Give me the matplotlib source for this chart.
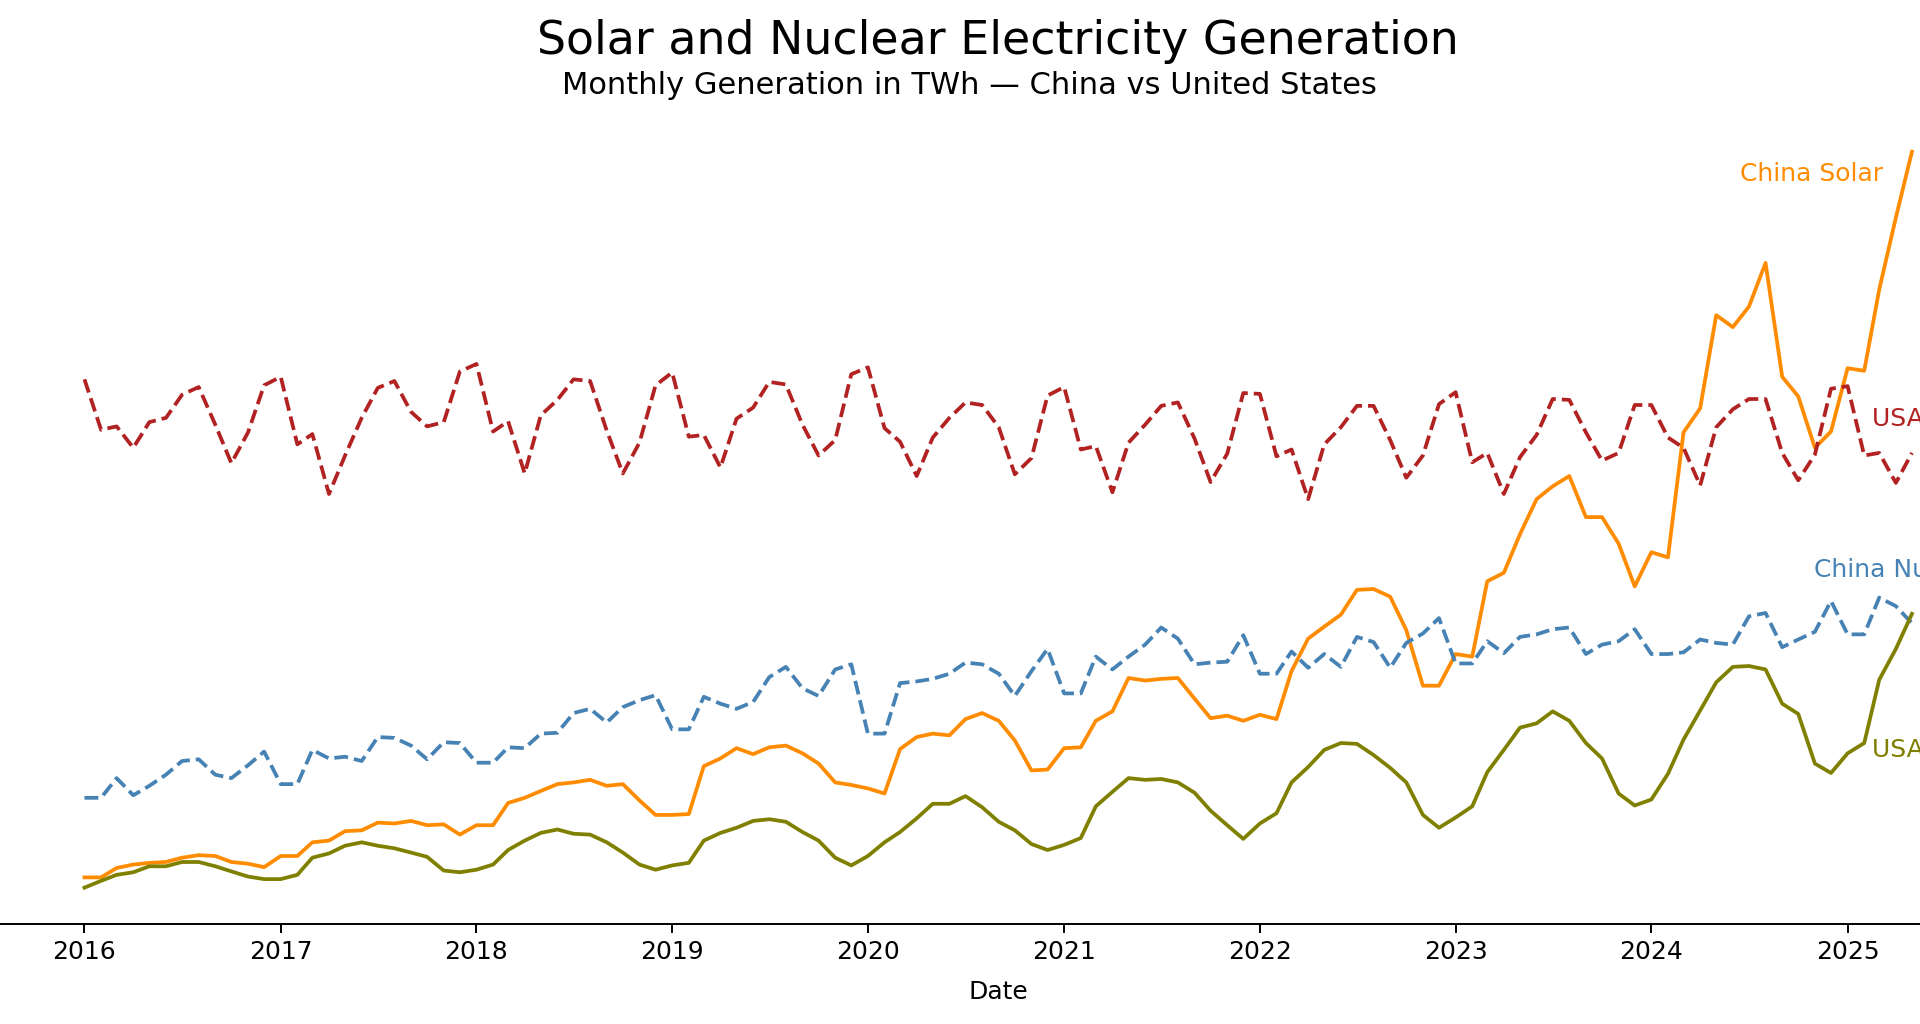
import matplotlib
matplotlib.use('Agg')
import matplotlib.pyplot as plt
import matplotlib.dates as mdates
import pandas as pd

# Monthly data, Jan 2016 - May 2025 (TWh)
fechas = pd.date_range('2016-01-01', periods=113, freq='MS')

china_solar = [
    7.3, 7.3, 8.4, 8.8, 9.0, 9.1, 9.6, 9.9, 9.8, 9.1, 8.9, 8.5,
    9.8, 9.8, 11.4, 11.6, 12.7, 12.8, 13.7, 13.6, 13.9, 13.4, 13.5, 12.3,
    13.4, 13.4, 16.0, 16.6, 17.4, 18.2, 18.4, 18.7, 18.0, 18.2, 16.3, 14.6,
    14.6, 14.7, 20.3, 21.2, 22.4, 21.7, 22.5, 22.7, 21.8, 20.6, 18.4, 18.1,
    17.7, 17.1, 22.3, 23.7, 24.1, 23.9, 25.8, 26.5, 25.6, 23.3, 19.8, 19.9,
    22.4, 22.5, 25.6, 26.7, 30.6, 30.3, 30.5, 30.6, 28.2, 25.9, 26.2, 25.6,
    26.3, 25.8, 31.4, 35.2, 36.6, 38.0, 40.9, 41.0, 40.1, 36.2, 29.7, 29.7,
    33.4, 33.1, 41.9, 42.9, 47.4, 51.5, 53.0, 54.2, 49.4, 49.4, 46.3, 41.3,
    45.3, 44.7, 59.3, 62.1, 73.0, 71.6, 74.0, 79.1, 65.8, 63.5, 57.5, 59.4,
    66.8, 66.5, 76.0, 84.4, 92.1,
]

usa_nuclear = [
    65.5, 59.6, 60.0, 57.5, 60.5, 61.0, 63.7, 64.6, 60.2, 55.7, 59.3, 64.8,
    65.8, 57.9, 59.1, 52.1, 56.6, 61.0, 64.5, 65.3, 61.7, 60.0, 60.5, 66.4,
    67.3, 59.4, 60.6, 54.5, 61.3, 63.1, 65.5, 65.3, 59.5, 54.5, 58.1, 64.8,
    66.3, 58.8, 59.0, 55.2, 60.9, 62.2, 65.2, 64.9, 60.2, 56.6, 58.4, 66.1,
    66.9, 59.8, 58.2, 54.2, 58.7, 61.0, 62.8, 62.5, 59.9, 54.4, 56.3, 63.6,
    64.6, 57.3, 57.7, 52.3, 58.1, 60.2, 62.4, 62.8, 58.6, 53.5, 56.8, 63.9,
    63.8, 56.5, 57.3, 51.5, 57.9, 59.9, 62.4, 62.4, 58.4, 54.0, 56.6, 62.6,
    64.0, 55.8, 56.9, 52.1, 56.4, 59.0, 63.2, 63.1, 59.3, 56.0, 56.9, 62.5,
    62.5, 58.7, 57.5, 53.1, 59.9, 62.0, 63.2, 63.2, 56.9, 53.7, 56.7, 64.4,
    64.7, 56.6, 56.9, 53.4, 56.9,
]

china_nuclear = [
    16.6, 16.6, 18.9, 16.9, 18.0, 19.3, 20.9, 21.1, 19.3, 18.9, 20.4, 22.0,
    18.2, 18.2, 22.2, 21.2, 21.4, 20.9, 23.7, 23.6, 22.7, 21.1, 23.1, 23.0,
    20.7, 20.7, 22.5, 22.4, 24.1, 24.2, 26.5, 27.0, 25.4, 27.2, 28.0, 28.6,
    24.6, 24.6, 28.4, 27.6, 27.0, 27.8, 30.7, 31.9, 29.4, 28.5, 31.6, 32.2,
    24.1, 24.1, 30.0, 30.2, 30.5, 31.1, 32.4, 32.2, 31.1, 28.5, 31.4, 34.0,
    28.8, 28.8, 33.1, 31.6, 33.1, 34.5, 36.5, 35.2, 32.2, 32.4, 32.5, 35.6,
    31.1, 31.1, 33.7, 31.8, 33.4, 31.9, 35.4, 34.8, 31.8, 34.7, 35.8, 37.6,
    32.3, 32.3, 34.9, 33.5, 35.4, 35.7, 36.3, 36.5, 33.4, 34.5, 34.9, 36.3,
    33.4, 33.4, 33.6, 35.1, 34.7, 34.5, 37.8, 38.2, 34.2, 35.1, 36.0, 39.6,
    35.7, 35.7, 40.0, 39.0, 37.0,
]

usa_solar = [
    6.1, 6.9, 7.6, 7.9, 8.6, 8.6, 9.1, 9.1, 8.6, 8.0, 7.4, 7.1,
    7.1, 7.6, 9.6, 10.1, 11.0, 11.4, 11.0, 10.7, 10.2, 9.7, 8.1, 7.9,
    8.2, 8.8, 10.5, 11.6, 12.5, 12.9, 12.4, 12.3, 11.4, 10.2, 8.8, 8.2,
    8.7, 9.0, 11.6, 12.5, 13.1, 13.9, 14.1, 13.8, 12.6, 11.6, 9.6, 8.7,
    9.8, 11.4, 12.6, 14.2, 15.9, 15.9, 16.8, 15.5, 13.8, 12.8, 11.2, 10.5,
    11.1, 11.9, 15.6, 17.3, 18.9, 18.7, 18.8, 18.4, 17.2, 15.1, 13.4, 11.8,
    13.6, 14.8, 18.4, 20.2, 22.2, 23.0, 22.9, 21.6, 20.1, 18.4, 14.6, 13.1,
    14.3, 15.6, 19.6, 22.2, 24.8, 25.3, 26.7, 25.6, 23.0, 21.2, 17.1, 15.7,
    16.4, 19.4, 23.4, 26.8, 30.1, 31.9, 32.0, 31.6, 27.6, 26.4, 20.6, 19.5,
    21.8, 23.0, 30.4, 34.0, 38.1,
]

fig = plt.figure(figsize=(19.2, 10.24), dpi=100)
# el eje sobresale un poco del lienzo, igual que en la imagen original
ax = fig.add_axes([-0.0036, 0.0972, 1.047, 0.7906])

ax.plot(fechas, china_solar, color='darkorange', lw=2.7)
ax.plot(fechas, usa_nuclear, color='firebrick', lw=2.7, ls='--')
ax.plot(fechas, china_nuclear, color='steelblue', lw=2.7, ls='--')
ax.plot(fechas, usa_solar, color='olive', lw=2.7)

# Etiquetas al final de cada serie
ax.text(pd.Timestamp('2024-06-14'), 89.5, 'China Solar', color='darkorange',
        fontsize=18, va='center', ha='left')
ax.text(pd.Timestamp('2025-02-15'), 60.9, 'USA Nuclear', color='firebrick',
        fontsize=18, va='center', ha='left')
ax.text(pd.Timestamp('2024-10-30'), 43.2, 'China Nuclear', color='steelblue',
        fontsize=18, va='center', ha='left')
ax.text(pd.Timestamp('2025-02-15'), 22.2, 'USA Solar', color='olive',
        fontsize=18, va='center', ha='left')

for lado in ['left', 'right', 'top']:
    ax.spines[lado].set_visible(False)
ax.spines['bottom'].set_linewidth(1.4)
ax.set_yticks([])
ax.xaxis.set_major_locator(mdates.YearLocator())
ax.xaxis.set_major_formatter(mdates.DateFormatter('%Y'))
ax.tick_params(axis='x', labelsize=18, length=6.5, width=1.4, pad=4.5)
ax.set_xlabel('Date', fontsize=18, labelpad=12)

fig.text(0.5195, 0.9475, 'Solar and Nuclear Electricity Generation',
         fontsize=33, ha='center', va='baseline')
fig.text(0.505, 0.908, 'Monthly Generation in TWh \u2014 China vs United States',
         fontsize=22, ha='center', va='baseline')

fig.savefig('out.png', dpi=100)
